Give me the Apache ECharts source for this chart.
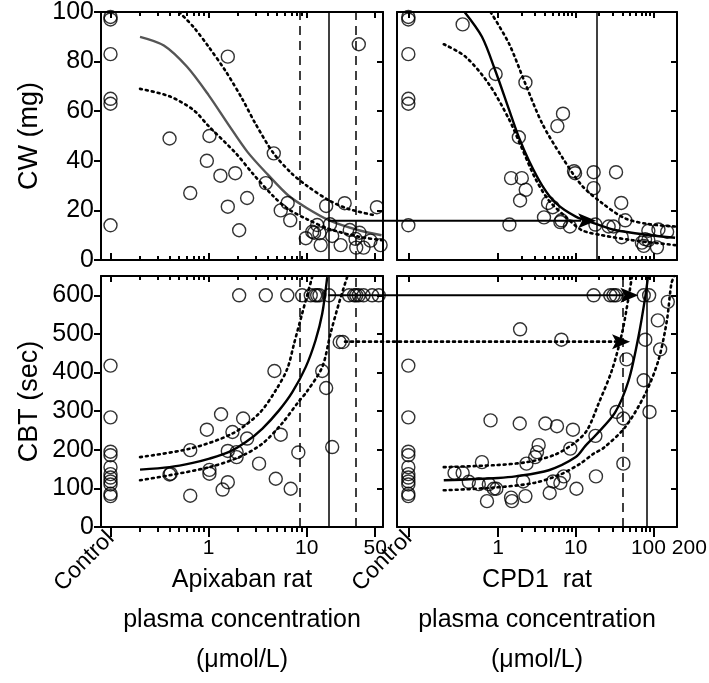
<!DOCTYPE html>
<html>
<head>
<meta charset="utf-8">
<script src="https://cdn.jsdelivr.net/npm/echarts@6/dist/echarts.min.js"></script>
<style>
  html, body { margin: 0; padding: 0; background: #fff; }
  #chart { width: 709px; height: 683px; }
</style>
</head>
<body>
<div id="chart"></div>
<script>
// control group (drawn at a fixed spot left of the log scale)
const cwControl = [98, 97, 83, 65, 63, 14]
const cbtControl = [418, 284, 195, 186, 155, 137, 128, 118, 110, 86, 80]

// CW (mg) vs apixaban concentration
const cwApixPoints = [
  [0.4, 49], [0.65, 27], [0.96, 40], [1.02, 50], [1.32, 34], [1.57, 82], [1.57, 21.5],
  [1.87, 35], [2.05, 12], [2.47, 25], [3.83, 31], [4.62, 43], [5.44, 20], [6.4, 23],
  [6.8, 16], [9.8, 8.8], [11.4, 11.4], [11.9, 11], [12.8, 14.1], [13.5, 10.8], [13.9, 6],
  [15.8, 21.8], [17.3, 14.4], [18.2, 9.7], [22.2, 6], [24.4, 22.9], [27.5, 12.1],
  [31.5, 8.5], [32, 5], [34, 87], [34.6, 11], [38, 5], [44.7, 7.8], [52, 21.3], [56.7, 6]
]
const cwApixFit = [[0.2, 90], [0.35, 86.5], [0.6, 78], [1, 66.5], [1.6, 54.5], [2.5, 43.5], [4, 34.5], [6.5, 26], [10, 21], [17, 16], [34, 12], [58, 10]]
const cwApixUpper = [[0.5, 100], [0.7, 94], [1, 86], [1.5, 76], [2.2, 65], [3, 55], [4.6, 43], [7, 35], [10, 30], [17, 24], [27, 20.5], [50, 18]]
const cwApixLower = [[0.2, 69], [0.4, 66], [0.7, 60.5], [1, 54], [1.9, 43], [2.8, 35], [4.6, 25.6], [6.5, 20.5], [10, 16.5], [17, 12.5], [34, 9.4], [58, 8]]

// CW (mg) vs CPD1 concentration
const cwCpdPoints = [
  [0.35, 95], [0.93, 75], [1.4, 14.3], [1.47, 33], [1.85, 49.5], [1.92, 24], [2.02, 33],
  [2.25, 71.6], [2.27, 28.3], [3.9, 17.2], [4.4, 23], [5.05, 21.3], [5.8, 54], [6.34, 15.3],
  [6.54, 16], [6.85, 59], [8.4, 13.5], [9.5, 35.8], [9.8, 35], [17, 35.4], [17, 29],
  [17.9, 14.3], [26.5, 13.5], [30.6, 13.5], [33, 35.4], [38.5, 23], [39, 9.2], [43.4, 16],
  [71, 7], [75, 5.7], [78, 8.4], [86, 8], [86, 11.8], [111, 5.1], [116, 12.3], [150, 11.4]
]
const cwCpdFit = [[0.37, 100], [0.62, 90], [0.93, 76], [1.37, 61], [1.85, 49.5], [2.5, 40], [3.7, 30], [5.5, 23], [10, 17.5], [18.7, 14.5], [32, 12.1], [86, 10.1], [190, 9]]
const cwCpdUpper = [[0.8, 100], [1.37, 87.5], [2.25, 71], [3.7, 55], [6.6, 41.7], [12, 30], [21.7, 23], [43, 16.8], [86, 14.5], [190, 13.5]]
const cwCpdLower = [[0.2, 87], [0.38, 82], [0.76, 71], [1.37, 57], [2.03, 45], [3, 33], [4.5, 24], [7.35, 17.5], [12, 12], [21.7, 10], [53, 8], [190, 6]]

// CBT (sec) vs apixaban concentration
const cbtApixPoints = [
  [0.4, 136], [0.41, 138], [0.65, 199], [0.65, 81], [0.96, 252], [1.02, 148], [1.02, 138],
  [1.34, 292], [1.39, 97], [1.57, 116], [1.57, 197], [1.75, 246], [1.93, 194], [1.93, 181],
  [2.05, 600], [2.25, 281], [2.47, 229], [3.27, 164], [3.83, 600], [4.69, 404], [4.84, 125],
  [5.44, 239], [6.35, 600], [6.87, 99], [8.22, 193], [9.0, 600], [11, 600], [12.2, 600],
  [12.8, 600], [13.5, 600], [14.4, 404], [15.8, 360], [16.9, 600], [18.2, 207], [21.7, 479],
  [23.4, 479], [27, 600], [30.5, 600], [32, 600], [34, 600], [38, 600], [46.5, 600], [54.3, 600]
]
const cbtApixFit = [[0.2, 148.5], [0.4, 155], [0.69, 166], [1.02, 177], [1.62, 194.5], [2.4, 220], [3.54, 255], [5.23, 302], [7.14, 349], [9.77, 414], [12.3, 483], [14.4, 552], [16.2, 647]]
const cbtApixUpper = [[0.2, 181], [0.65, 203], [1.75, 242], [3.27, 294], [4.84, 354], [6.35, 410], [7.44, 475], [9, 553], [11.4, 648]]
const cbtApixLower = [[0.2, 121], [0.4, 134], [1.02, 155], [2.05, 181], [3.54, 216], [5.6, 268], [8.3, 325], [10, 350], [14.4, 414], [17.5, 501], [21.3, 579], [25.9, 648]]

// CBT (sec) vs CPD1 concentration
const cbtCpdPoints = [
  [0.275, 140], [0.35, 140], [0.42, 117], [0.565, 111], [0.62, 168], [0.72, 67], [0.76, 111],
  [0.8, 276], [0.88, 99], [0.95, 99], [1.47, 76], [1.51, 67], [1.9, 268], [1.92, 512],
  [2.1, 118], [2.25, 80], [2.32, 164], [3.0, 181], [3.17, 194], [3.33, 212], [4.07, 268],
  [4.62, 88], [5.1, 118], [5.73, 261], [6.34, 114], [6.53, 485], [7.0, 131], [8.5, 203],
  [9.2, 252], [10.2, 99], [17, 600], [17.9, 236], [18.2, 131], [27.8, 600], [30.6, 600],
  [32.9, 600], [33.5, 298], [41, 281], [41, 164], [45, 434], [75, 600], [75, 380],
  [78.5, 485], [88, 600], [89, 298], [114, 535], [122, 460], [153, 583]
]
const cbtCpdFit = [[0.2, 121], [1, 127], [1.67, 131], [4.5, 147], [10, 181], [13.3, 210], [17.9, 237], [32, 296], [48, 380], [64, 492], [78.5, 596], [85, 648]]
const cbtCpdUpper = [[0.2, 155], [0.88, 160], [2.36, 168], [5.2, 186], [9.4, 216], [13.9, 250], [19.7, 320], [29.2, 406], [39.3, 501], [48, 596], [52.8, 648]]
const cbtCpdLower = [[0.2, 95], [0.88, 102], [2.88, 114], [6.34, 136], [11.4, 164], [17, 190], [22.9, 205], [43.4, 259], [78.5, 345], [116, 432], [149, 535], [170, 630], [185, 650]]

// reference lines (concentrations)
const apixDashed = [8.5, 32]
const apixSolid = [16.6]
const cpdCwSolid = [18.5]
const cpdCbtDashed = [40.4]
const cpdCbtSolid = [81]

// arrows carrying a response level from the apixaban panel to the CPD1 panel
const arrowCw = { from: [16.6, 15.8], to: [18.3, 15.8] }
const arrowCbt = { from: [16.6, 600], to: [64, 600] }
const arrowCbtDotted = { from: [24.6, 480], to: [50, 480] }

// axis ticks
const apixMajor = [1, 10, 50]
const apixMinor = [0.2, 0.3, 0.4, 0.5, 0.6, 0.7, 0.8, 0.9, 2, 3, 4, 5, 6, 7, 8, 9]
const cpdMajor = [1, 10, 100, 200]
const cpdMinor = [2, 3, 4, 5, 6, 7, 8, 9, 20, 30, 40, 50, 60, 70, 80, 90]
const cwTicks = [0, 20, 40, 60, 80, 100]
const cbtTicks = [0, 100, 200, 300, 400, 500, 600]

const apixControlX = 0.1
const cpdControlX = 0.07

const font = 'Liberation Sans, Arial, sans-serif'
const black = '#000'

const chart = echarts.init(document.getElementById('chart'))

const grids = [
  { left: 101, top: 12, width: 282, height: 248, outerBoundsMode: 'none', containLabel: false },
  { left: 397, top: 12, width: 280, height: 248, outerBoundsMode: 'none', containLabel: false },
  { left: 101, top: 276, width: 282, height: 251, outerBoundsMode: 'none', containLabel: false },
  { left: 397, top: 276, width: 280, height: 251, outerBoundsMode: 'none', containLabel: false }
]

const xAxis = []
const yAxis = []
const series = []
const scatterIndex = []

// the last two labels of the CPD1 axis sit close together, so they get nudged apart
const labelNudge = {
  100: { align: 'center', padding: [0, 10, 0, 0] },
  200: { align: 'left', padding: [0, 0, 0, -5] }
}

function addPanel(gi, cfg) {
  const base = {
    gridIndex: gi, type: 'log', logBase: 10, min: cfg.xmin, max: cfg.xmax,
    splitLine: { show: false }, axisLine: { show: false },
    axisTick: { show: false }, axisLabel: { show: false }
  }
  const tl = { width: 2, color: black }
  const bottomOut = cfg.bottom
  const tickFont = { color: black, fontFamily: font, fontSize: 21, hideOverlap: false }
  const xi = xAxis.length
  const plain = cfg.major.filter(v => !labelNudge[v])
  const nudged = cfg.major.filter(v => labelNudge[v])
  // bottom: major ticks + labels + name
  xAxis.push(Object.assign({}, base, {
    position: 'bottom',
    axisLine: { show: true, onZero: false, lineStyle: { color: black, width: 2 } },
    axisTick: { show: true, inside: !bottomOut, length: bottomOut ? 10 : 7, customValues: [cfg.control].concat(plain), lineStyle: tl },
    axisLabel: Object.assign({
      show: bottomOut, customValues: plain, margin: 11,
      formatter: (v) => String(Math.round(v * 100) / 100)
    }, tickFont),
    name: bottomOut ? cfg.name : '',
    nameLocation: 'middle', nameGap: 24,
    nameTextStyle: { fontFamily: font, fontSize: 25, color: black, lineHeight: 40 }
  }))
  nudged.forEach(v => {
    xAxis.push(Object.assign({}, base, {
      position: 'bottom',
      axisTick: { show: v < cfg.xmax * 0.99, inside: !bottomOut, length: bottomOut ? 10 : 7, customValues: [v], lineStyle: tl },
      axisLabel: Object.assign({
        show: bottomOut, customValues: [v], margin: 11,
        formatter: (t) => String(Math.round(t))
      }, tickFont, labelNudge[v])
    }))
  })
  // bottom: minor ticks
  xAxis.push(Object.assign({}, base, {
    position: 'bottom',
    axisTick: { show: true, inside: !bottomOut, length: bottomOut ? 5 : 4, customValues: cfg.minor, lineStyle: tl }
  }))
  // bottom: Control label
  xAxis.push(Object.assign({}, base, {
    position: 'bottom',
    axisLabel: Object.assign({
      show: bottomOut, customValues: [cfg.control], rotate: 45, margin: 8,
      formatter: () => 'Control'
    }, tickFont, { fontSize: 23 })
  }))
  // top: mirrored ticks
  xAxis.push(Object.assign({}, base, {
    position: 'top',
    axisLine: { show: true, onZero: false, lineStyle: { color: black, width: 2 } },
    axisTick: { show: true, inside: true, length: 6, customValues: [cfg.control].concat(cfg.major.filter(v => v < cfg.xmax * 0.99)), lineStyle: tl }
  }))
  xAxis.push(Object.assign({}, base, {
    position: 'top',
    axisTick: { show: true, inside: true, length: 4, customValues: cfg.minor, lineStyle: tl }
  }))

  const yi = yAxis.length
  yAxis.push({
    gridIndex: gi, type: 'value', position: 'left', min: 0, max: cfg.ymax,
    splitLine: { show: false },
    axisLine: { show: true, onZero: false, lineStyle: { color: black, width: 2 } },
    axisTick: { show: cfg.left, inside: false, length: 7, customValues: cfg.yticks, lineStyle: tl },
    axisLabel: { show: cfg.left, customValues: cfg.yticks, margin: 7, color: black, fontFamily: font, fontSize: 25 },
    name: cfg.left ? cfg.yname : '',
    nameLocation: 'middle', nameGap: 58,
    nameTextStyle: { fontFamily: font, fontSize: 27, color: black }
  })
  yAxis.push({
    gridIndex: gi, type: 'value', position: 'right', min: 0, max: cfg.ymax,
    splitLine: { show: false },
    axisLine: { show: true, onZero: false, lineStyle: { color: black, width: 2 } },
    axisTick: { show: true, inside: true, length: 6, customValues: cfg.yticks, lineStyle: tl },
    axisLabel: { show: false }
  })

  const on = { xAxisIndex: xi, yAxisIndex: yi }
  const circle = {
    type: 'scatter', symbol: 'circle', symbolSize: 13,
    itemStyle: { color: 'rgba(0,0,0,0)', borderColor: black, borderWidth: 1.4 },
    silent: true, z: 3
  }
  const vlines = []
  cfg.dashed.forEach(v => vlines.push({ xAxis: v, lineStyle: { type: [9, 6], width: 1.5, color: black } }))
  cfg.solidLines.forEach(v => vlines.push({ xAxis: v, lineStyle: { type: 'solid', width: 1.5, color: black } }))

  scatterIndex[gi] = series.length
  series.push(Object.assign({}, circle, on, {
    data: cfg.points,
    markLine: { silent: true, symbol: ['none', 'none'], label: { show: false }, data: vlines }
  }))
  series.push(Object.assign({}, circle, on, { data: cfg.controls.map(v => [cfg.control, v]) }))
  const line = { type: 'line', showSymbol: false, symbol: 'none', smooth: 0.3, silent: true, clip: true, z: 2 }
  series.push(Object.assign({}, line, on, { data: cfg.fit, lineStyle: { color: cfg.fitColor, width: 2.4 } }))
  series.push(Object.assign({}, line, on, { data: cfg.upper, lineStyle: { color: black, width: 2.6, type: [2, 4], cap: 'round' } }))
  series.push(Object.assign({}, line, on, { data: cfg.lower, lineStyle: { color: black, width: 2.6, type: [2, 4], cap: 'round' } }))
}

addPanel(0, {
  xmin: 0.08, xmax: 60, control: apixControlX, major: apixMajor, minor: apixMinor,
  bottom: false, left: true, ymax: 100, yticks: cwTicks, yname: 'CW (mg)',
  points: cwApixPoints, controls: cwControl, fit: cwApixFit, upper: cwApixUpper, lower: cwApixLower,
  fitColor: '#555', dashed: apixDashed, solidLines: apixSolid
})
addPanel(1, {
  xmin: 0.05, xmax: 201, control: cpdControlX, major: cpdMajor, minor: cpdMinor,
  bottom: false, left: false, ymax: 100, yticks: cwTicks,
  points: cwCpdPoints, controls: cwControl, fit: cwCpdFit, upper: cwCpdUpper, lower: cwCpdLower,
  fitColor: black, dashed: [], solidLines: cpdCwSolid
})
addPanel(2, {
  xmin: 0.08, xmax: 60, control: apixControlX, major: apixMajor, minor: apixMinor,
  bottom: true, left: true, ymax: 650, yticks: cbtTicks, yname: 'CBT (sec)',
  name: 'Apixaban rat\nplasma concentration\n(μmol/L)',
  points: cbtApixPoints, controls: cbtControl, fit: cbtApixFit, upper: cbtApixUpper, lower: cbtApixLower,
  fitColor: black, dashed: apixDashed, solidLines: apixSolid
})
addPanel(3, {
  xmin: 0.05, xmax: 201, control: cpdControlX, major: cpdMajor, minor: cpdMinor,
  bottom: true, left: false, ymax: 650, yticks: cbtTicks,
  name: 'CPD1  rat\nplasma concentration\n(μmol/L)',
  points: cbtCpdPoints, controls: cbtControl, fit: cbtCpdFit, upper: cbtCpdUpper, lower: cbtCpdLower,
  fitColor: black, dashed: cpdCbtDashed, solidLines: cpdCbtSolid
})

chart.setOption({
  animation: false,
  backgroundColor: '#fff',
  grid: grids,
  xAxis: xAxis,
  yAxis: yAxis,
  series: series
})

// arrows across panels, placed with the panels' own scales
function arrow(link, fromPanel, toPanel, dotted) {
  const a = chart.convertToPixel({ seriesIndex: scatterIndex[fromPanel] }, link.from)
  const b = chart.convertToPixel({ seriesIndex: scatterIndex[toPanel] }, link.to)
  const len = 18, half = 7.5
  return [
    {
      type: 'line', silent: true, z: 10,
      shape: { x1: a[0], y1: a[1], x2: b[0] - len + 3, y2: b[1] },
      style: dotted
        ? { stroke: black, lineWidth: 2.6, lineDash: [2, 4], lineCap: 'round' }
        : { stroke: black, lineWidth: 2 }
    },
    {
      type: 'polygon', silent: true, z: 10,
      shape: { points: [[b[0], b[1]], [b[0] - len, b[1] - half], [b[0] - len + 4, b[1]], [b[0] - len, b[1] + half]] },
      style: { fill: black }
    }
  ]
}

chart.setOption({
  graphic: [].concat(
    arrow(arrowCw, 0, 1, false),
    arrow(arrowCbt, 2, 3, false),
    arrow(arrowCbtDotted, 2, 3, true)
  )
})
</script>
</body>
</html>
